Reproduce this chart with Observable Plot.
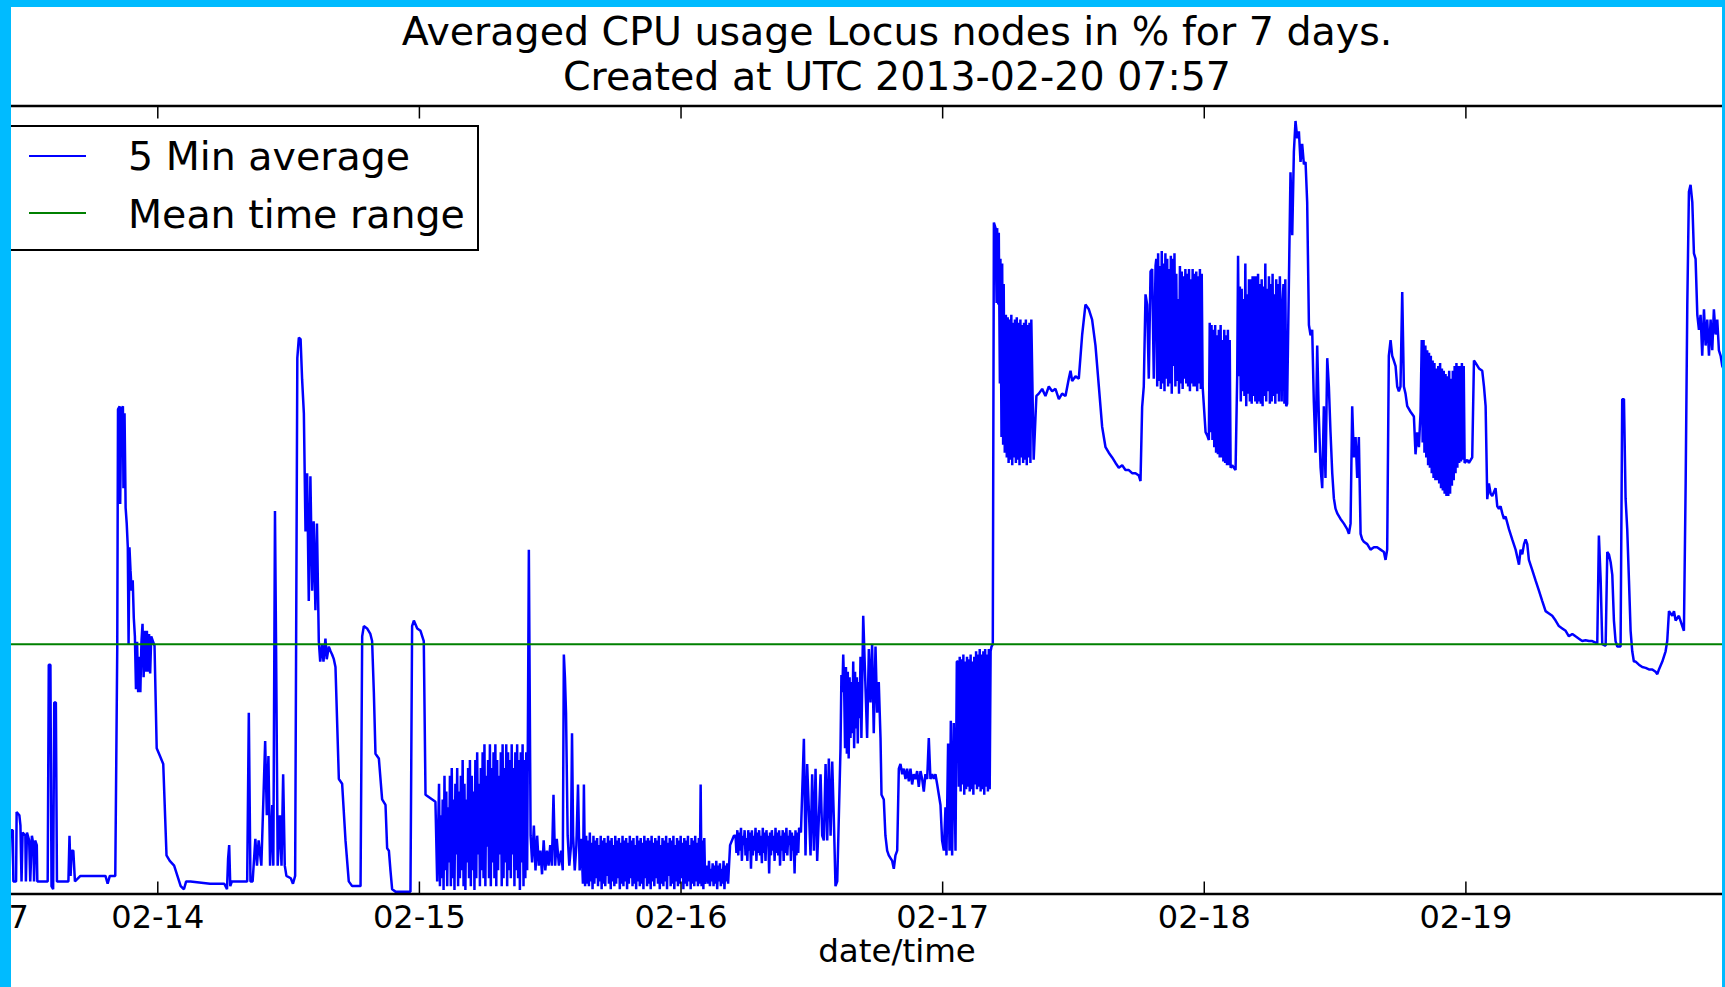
<!DOCTYPE html>
<html>
<head>
<meta charset="utf-8">
<script src="https://cdn.jsdelivr.net/npm/d3@7"></script>
<script src="https://cdn.jsdelivr.net/npm/@observablehq/plot@0.6"></script>
<style>
html, body { margin: 0; padding: 0; }
body { width: 1725px; height: 987px; background: #00bbff; position: relative; overflow: hidden; font-family: "DejaVu Sans", sans-serif; color: #000; }
#panel { position: absolute; left: 11px; top: 7px; width: 1711px; height: 980px; background: #fff; overflow: hidden; }
#chart { position: absolute; left: 0; top: 0; }
#title { position: absolute; left: 886px; top: 1.8px; transform: translateX(-50%); font-size: 39.5px; line-height: 45px; text-align: center; white-space: nowrap; }
#xlabel { position: absolute; left: 886px; top: 927.5px; transform: translateX(-50%); font-size: 32.5px; line-height: 32.5px; white-space: nowrap; }
#legend { position: absolute; left: -5px; top: 118px; width: 472.5px; height: 126px; border: 2px solid #000; box-sizing: border-box; background: #fff; }
#legend .ll { position: absolute; left: 21px; width: 57px; height: 2px; }
#legend .lt { position: absolute; left: 120px; font-size: 39.5px; line-height: 39.5px; white-space: nowrap; }
</style>
</head>
<body>
<div id="panel">
  <div id="chart"></div>
  <div id="title"></div>
  <div id="legend"></div>
  <div id="xlabel"></div>
</div>
<script>
// ---- text ----
const titleLines = ["Averaged CPU usage Locus nodes in % for 7 days.", "Created at UTC 2013-02-20 07:57"];
const xLabel = "date/time";
const seriesNames = ["5 Min average", "Mean time range"];
const seriesColors = ["#0000ff", "#008000"];

// ---- x ticks ----
const tickTimes = ["2013-02-13T07:57Z", "2013-02-14T00:00Z", "2013-02-15T00:00Z", "2013-02-16T00:00Z", "2013-02-17T00:00Z", "2013-02-18T00:00Z", "2013-02-19T00:00Z"];
const tickLabels = ["07:57", "02-14", "02-15", "02-16", "02-17", "02-18", "02-19"];

// visible time window (hours after 2013-02-13 00:00 UTC)
const viewStartHour = 10.58;
const viewEndHour = 167.54;
const yDomain = [0, 100];

// mean over the time range (%)
const meanValue = 31.7;

// ---- 5 minute averages: [hours after 2013-02-13 00:00 UTC, % CPU] ----
const day13 = [[10.4,2.0],[10.49,8.1],[10.7,8.1],[10.75,1.6],[11.0,1.6],[11.05,10.4],[11.3,10.0],[11.4,8.7],[11.5,1.6],[11.6,7.8],[11.85,7.4],[11.9,1.6],[12.0,7.8],[12.2,6.8],[12.3,1.6],[12.45,7.4],[12.6,6.2],[12.65,1.6],[12.75,6.8],[12.9,6.2],[12.95,1.6],[13.9,1.6],[14.0,29.1],[14.15,29.1],[14.25,1.0],[14.4,0.6],[14.5,24.3],[14.65,24.3],[14.75,1.6],[15.8,1.6],[15.9,7.4],[16.0,2.3],[16.1,5.5],[16.25,5.5],[16.4,1.6],[16.9,2.3],[19.2,2.3],[19.4,1.3],[19.6,2.3],[20.1,2.3],[20.28,31.0],[20.35,61.5],[20.5,61.9],[20.55,49.5],[20.65,61.5],[20.8,61.9],[20.85,51.5],[20.95,61.0],[21.05,49.0],[21.15,47.0],[21.25,44.0],[21.32,31.7],[21.4,44.0],[21.5,41.0],[21.6,38.5],[21.7,39.8],[21.8,35.0],[21.9,32.7],[22.0,26.0],[22.1,32.0],[22.2,25.6],[22.3,30.1],[22.4,25.6],[22.5,32.0],[22.6,34.3],[22.7,27.5],[22.8,33.4],[22.9,28.2],[23.0,33.4],[23.1,28.2],[23.2,33.0],[23.3,28.0],[23.4,32.7],[23.55,32.1],[23.7,31.5],[23.9,18.5]];
const day14 = [[24.2,17.5],[24.5,16.5],[24.8,4.9],[25.1,4.2],[25.5,3.6],[25.8,2.3],[26.1,1.0],[26.4,0.6],[26.6,1.6],[27.0,1.6],[28.8,1.3],[30.1,1.3],[30.35,0.6],[30.45,4.5],[30.55,6.2],[30.65,1.0],[30.8,1.6],[32.2,1.6],[32.35,23.0],[32.5,1.6],[32.7,1.6],[32.95,7.0],[33.1,3.6],[33.25,6.8],[33.5,3.6],[33.85,19.4],[34.0,10.0],[34.15,17.5],[34.3,3.6],[34.5,11.3],[34.6,3.6],[34.75,48.6],[34.85,31.7],[35.0,3.6],[35.2,10.0],[35.35,3.6],[35.5,15.2],[35.65,3.6],[35.8,2.3],[36.2,2.0],[36.4,1.3],[36.6,2.3],[36.8,68.0],[36.94,70.6],[37.1,70.4],[37.24,65.3],[37.4,61.0],[37.55,46.0],[37.7,53.4],[37.85,37.2],[38.0,53.0],[38.16,38.5],[38.3,47.3],[38.46,36.0],[38.6,47.0],[38.77,32.1],[38.9,29.5],[39.08,31.7],[39.2,29.5],[39.38,32.4],[39.5,29.8],[39.69,31.4],[39.85,30.8],[39.99,30.4],[40.15,29.8],[40.3,28.8],[40.61,14.6],[40.91,14.0],[41.22,6.8],[41.52,1.6],[41.83,1.0],[42.6,1.0],[42.75,32.7],[42.9,34.0],[43.2,33.7],[43.5,33.0],[43.66,32.1],[43.82,25.6],[43.97,17.8],[44.28,17.2],[44.58,12.0],[44.89,11.3],[45.04,5.8],[45.2,5.5],[45.35,2.9],[45.5,0.6],[45.8,0.3],[47.18,0.3],[47.33,34.0],[47.49,34.7],[47.8,33.7],[48.1,33.4],[48.4,32.1],[48.56,12.6],[49.47,11.7],[49.63,1.6]];
const day15 = [[58.04,43.7],[58.2,7.4],[58.34,4.0],[58.5,8.7],[58.65,3.0],[58.8,7.4],[58.95,3.6],[59.1,5.5],[59.25,2.5],[59.4,6.8],[59.55,3.0],[59.7,5.5],[59.85,3.6],[60.0,6.2],[60.15,3.6],[60.3,12.6],[60.45,3.6],[60.6,7.0],[60.8,3.6],[61.0,5.5],[61.15,3.0],[61.25,30.4],[61.35,27.5],[61.45,23.0],[61.6,7.4],[61.75,3.6],[61.9,6.0],[62.0,20.4],[62.1,7.4],[62.25,3.0],[62.4,6.2],[62.55,13.9],[62.7,3.0],[62.85,7.0],[63.0,1.3],[63.09,13.9],[63.2,1.0],[76.5,6.2],[76.85,7.4],[83.0,7.8],[83.27,19.7],[83.42,4.9],[83.57,16.5],[83.88,4.9],[84.03,15.2],[84.19,5.5],[84.34,15.9],[84.49,4.2],[84.8,15.2],[84.95,7.4],[85.1,6.8],[85.26,16.5],[85.41,6.8],[85.56,17.2],[85.72,7.4],[85.87,16.8],[86.02,9.4],[86.17,1.0],[86.33,1.6],[86.48,10.0]];
const day16 = [[89.07,19.8],[89.23,31.1],[89.38,24.3],[89.53,31.7],[89.68,20.4],[89.84,31.4],[89.99,23.0],[90.14,26.9],[90.3,19.8],[90.39,12.6],[90.6,12.0],[90.75,7.4],[90.91,5.5],[91.06,4.9],[91.37,4.2],[91.52,3.2],[91.67,4.9],[91.83,5.5],[91.98,15.9],[92.13,16.5],[92.29,15.2],[92.44,15.9],[92.59,14.6],[92.74,15.9],[92.9,14.3],[93.05,15.9],[93.2,13.9],[93.35,15.2],[93.51,14.6],[93.66,15.6],[93.81,13.6],[93.97,15.6],[94.12,14.6],[94.27,13.0],[94.42,15.2],[94.58,14.6],[94.73,19.8],[94.88,14.6],[95.04,15.2],[95.19,14.6],[95.34,15.2],[95.5,13.9],[95.65,12.6],[95.8,11.3],[95.95,6.8],[96.11,5.5],[96.26,11.0],[96.35,4.9],[96.5,19.1],[96.63,5.5],[96.75,22.0],[96.87,4.9],[97.02,21.7],[97.18,5.5],[97.3,29.5],[100.6,31.7],[100.7,85.2],[100.85,84.5],[100.95,75.0],[101.0,84.5],[101.1,74.8],[101.15,83.9],[101.25,64.8],[101.3,80.6],[101.4,58.0],[101.46,80.0],[101.55,57.0],[101.6,77.4],[101.7,56.0],[104.35,55.1],[104.6,63.2],[104.82,63.5],[105.13,64.1],[105.43,63.2],[105.74,64.4],[106.04,63.8],[106.35,64.1],[106.66,62.8],[106.96,63.5],[107.27,63.2],[107.57,65.4],[107.73,66.4],[107.88,65.1],[108.19,65.7],[108.49,65.4],[108.8,71.0],[109.1,74.8],[109.41,74.2],[109.71,72.9],[110.02,69.6],[110.33,64.4],[110.63,59.3],[110.94,56.7],[111.24,56.0],[111.55,55.4],[111.86,54.7],[112.16,54.1],[112.47,54.4],[112.77,53.8],[113.08,53.8],[113.38,53.4],[113.69,53.4],[114.0,53.1],[114.15,52.4],[114.3,61.8],[114.45,64.4],[114.61,76.1],[114.76,74.8],[114.91,65.4],[115.07,79.0],[115.22,79.3],[115.37,65.4],[115.53,79.7]];
const day17 = [[120.12,58.6],[120.27,58.2],[120.42,57.6],[122.56,54.4],[122.72,54.1],[122.87,53.8],[123.02,65.7],[127.91,91.6],[128.07,83.6],[128.22,94.2],[128.37,98.1],[128.53,95.9],[128.68,96.8],[128.83,92.9],[128.98,95.2],[129.14,92.6],[129.29,92.9],[129.44,87.8],[129.6,72.2],[129.75,70.9],[129.9,71.6],[130.05,62.5],[130.21,56.0],[130.36,69.6],[130.51,60.6],[130.67,54.1],[130.82,51.5],[130.97,61.9],[131.12,52.8],[131.28,68.0],[131.43,64.4],[131.58,58.6],[131.74,53.4],[131.89,50.2],[132.04,48.9],[132.2,48.3],[132.5,47.6],[132.81,47.0],[133.11,46.3],[133.27,45.7],[133.42,47.0],[133.57,61.9],[133.72,55.4],[133.88,58.0],[134.03,52.8],[134.18,58.0],[134.34,45.7],[134.49,45.0],[134.64,44.7],[134.95,44.4],[135.25,43.7],[135.56,44.0],[135.86,44.0],[136.17,43.7],[136.48,43.4],[136.63,42.4],[136.78,43.7],[136.93,68.3],[137.09,70.3],[137.24,68.3],[137.39,67.7],[137.55,67.0],[137.7,64.4],[137.85,63.8],[138.0,64.4],[138.16,76.4],[138.31,64.4],[138.46,63.5],[138.62,61.9],[138.92,61.2],[139.23,60.6],[139.38,55.8],[139.53,58.6],[139.69,56.7],[139.84,61.2]];
const day18 = [[144.0,54.9],[144.13,55.1],[144.28,54.7],[144.58,55.4],[144.74,67.7],[144.89,67.4],[145.2,66.7],[145.5,66.4],[145.66,64.4],[145.81,61.9],[145.96,50.1],[146.11,52.1],[146.27,50.8],[146.42,50.5],[146.72,51.5],[146.88,49.2],[147.03,48.9],[147.18,49.2],[147.34,48.3],[147.49,47.6],[147.64,47.9],[147.95,46.3],[148.25,45.0],[148.56,43.7],[148.87,41.8],[149.02,43.7],[149.17,43.1],[149.33,44.4],[149.48,45.0],[149.63,44.4],[149.78,42.4],[150.09,41.1],[150.39,39.8],[150.7,38.5],[151.0,37.2],[151.31,35.9],[151.62,35.6],[151.92,35.3],[152.23,34.7],[152.53,34.0],[152.84,33.7],[153.15,33.4],[153.45,32.7],[153.76,33.0],[154.06,32.7],[154.37,32.4],[154.67,32.1],[154.98,32.2],[155.29,32.1],[155.59,32.1],[155.9,31.9],[156.05,31.7],[156.2,45.5],[156.36,40.0],[156.51,31.7],[156.82,31.5],[156.97,43.4],[157.12,43.1],[157.28,42.1],[157.43,40.5],[157.58,34.7],[157.73,32.1],[157.89,31.4],[158.19,31.4],[158.34,62.8],[158.5,62.8],[158.65,50.2],[158.8,46.3],[158.96,39.8],[159.11,33.4],[159.26,30.8],[159.41,29.5],[159.57,29.5],[159.87,29.1],[160.18,28.8],[160.49,28.7],[160.79,28.5],[161.1,28.5],[161.4,28.2],[161.56,27.9],[161.71,28.5],[162.02,29.5],[162.32,30.8],[162.47,32.1],[162.63,35.9],[162.78,35.6],[162.93,35.3],[163.09,35.9],[163.24,34.7],[163.54,35.3],[163.85,34.0],[164.0,33.4],[164.16,52.1],[164.31,74.8],[164.46,89.1],[164.61,90.0],[164.77,87.8],[164.92,81.3],[165.07,80.6],[165.23,73.5],[165.38,71.6],[165.53,73.5],[165.68,68.3],[165.84,74.2],[165.99,69.6],[166.14,72.9],[166.3,68.3],[166.45,72.9],[166.6,69.0],[166.75,74.2],[166.91,71.0],[167.06,72.9],[167.21,69.0],[167.37,68.3],[167.52,67.0],[167.7,66.4]];

// dense stretches of consecutive 5-minute samples: start hour, then values
const sampleStep = 1 / 12;
const burst15a = {start: 49.8, values: [14,1,10,2,12,0.5,15,3,13,1,11,4,15,1,16,2,12,0.5,14,5,16,1,13,2,15,3,17,1,14,0.5,12,4,16,2,17,1,15,3,13,0.5,17,2,18,5,14,1,16,3,18,2,19,1,15,6,17,2,19,1,16,4,18,2,19,1,17,3,15,5,18,1,19,2,16,4,19,1,18,3,17,2,19,5,16,1,18,3,19,2,17,0.5,18,4,19,1,17,2,18,3]};
const burst15b = {start: 63.3, values: [7.4,1.3,6.8,1.0,7.8,1.6,6.5,0.6,7.4,1.3,6.8,2.0,7.1,1.0,6.2,1.6,7.4,0.6,6.8,1.3,7.1,1.0,6.5,2.3,7.4,1.3,6.8,0.6,7.1,1.6,6.2,1.0,7.4,1.3,6.8,2.0,7.1,0.6,6.5,1.3,7.4,1.0,6.8,1.6,7.1,0.6,6.5,1.3,7.4,2.0,6.8,1.0,7.1,1.3,6.2,0.6,7.4,1.6,6.8,1.0,7.1,1.3,6.5,0.6,7.4,2.0,6.8,1.0,7.1,1.3,6.8,0.6,7.4,1.6,6.5,1.0,7.1,2.0,6.8,1.3,7.4,0.6,6.2,1.3,7.1,1.0,6.8,1.6,7.4,0.6,6.5,2.3,7.1,1.0,6.8,1.3,7.4,0.6,6.2,1.6,7.1,1.0,6.8,1.3,7.4,2.0,6.5,0.6,7.1,1.3,6.8,1.0,7.4,1.6,6.2,0.6,7.1,1.3,6.8,1.0,7.4,1.6,6.5,1.0,7.1,1.3,13.9,1.0,6.8,0.6,7.1,1.3]};
const burst16a = {start: 74.4, values: [3.6,1.3,4.2,1.0,3.2,1.6,3.9,1.0,3.6,1.3,4.2,0.6,3.6,1.6,3.9,1.0,3.2,1.3,4.2,0.6,3.6,1.6,3.9,1.3]};
const burst16b = {start: 77.0, values: [7.4,5.2,8.1,4.9,7.8,5.5,8.4,4.2,7.4,6.2,8.1,4.9,7.1,4.2,8.1,5.5,7.8,3.2,8.1,4.9,7.4,5.5,8.4,4.2,7.8,5.2,8.1,4.9,7.4,3.9,8.4,5.2,7.8,4.2,8.1,6.2,7.4,2.6,7.8,4.9,8.1,5.5,7.4,4.2,8.4,5.2,7.8,4.9,8.1,3.6,7.4,5.5,8.1,4.2,7.8,5.2,8.4,4.9,7.4,6.2,8.1,4.2,7.8,5.5,7.4,2.6,8.1,4.9,7.8,5.2,8.4]};
const burst16c = {start: 86.63, values: [18.5,27.8,25.6,30.4,26.2,18.5,28.8,17.8,28.2,17.2,27.5,19.8,26.9,20.4,29.5,18.5,28.2,21.0,27.5,19.1,26.9,22.3,30.1,19.8,27.5,35.3]};
const burst17a = {start: 97.4, values: [29.5,13.6,30.1,13.0,29.8,13.9,30.4,12.6,29.5,13.3,30.1,13.6,29.8,13.0,30.4,13.3,29.5,12.6,30.1,13.9,30.8,13.3,30.4,13.6,31.1,13.0,30.4,13.3,30.8,12.6,31.1,13.6,30.4,13.0,31.1,13.3,30.8,31.4]};
const burst17b = {start: 101.8, values: [73.5,55.4,73.2,54.7,72.9,55.1,73.5,54.4,72.5,55.4,72.9,54.7,73.2,55.1,72.5,54.4,72.9,55.4,72.2,54.7,72.5,55.1,72.9,54.4,72.2,55.4,72.5,54.7,72.9]};
const burst18a = {start: 115.6, values: [80.6,64.4,81.3,65.1,79.7,64.1,81.6,64.8,80.0,63.8,81.3,65.4,80.6,64.4,79.3,64.8,81.0,63.5,80.6,67.0,81.3,64.4,78.7,65.1,75.5,63.5,79.7,64.8,79.0,64.1,78.4,65.4,79.3,64.8,78.7,64.4,79.3,63.8,78.0,64.8,79.3,64.4,78.7,64.4,79.0,63.8,78.4,64.8,79.3,64.1,78.7,64.4]};
const burst18b = {start: 120.5, values: [72.5,58.6,72.2,57.6,71.6,56.7,72.2,56.0,70.9,55.8,71.6,55.4,72.2,55.4,70.3,54.9,71.6,54.7,70.9,54.4,71.6,54.4,70.3,54.1]};
const burst18c = {start: 123.1, values: [81.0,65.7,77.1,62.5,76.8,63.8,75.5,63.2,80.0,61.9,76.1,63.5,78.0,62.5,78.0,62.2,78.4,63.2,78.4,62.5,78.4,62.2,78.7,62.5,77.4,62.2,78.0,61.9,77.1,63.2,80.0,62.5,76.8,63.8,78.4,62.2,77.4,62.5,78.7,63.2,76.1,62.2,78.0,63.5,77.4,62.5,78.4,71.6,62.5,75.0,77.4,62.2,78.0,61.9,62.2]};
const burst19a = {start: 139.95, values: [70.3,57.3,70.3,56.0,69.6,55.4,69.0,54.4,68.7,54.1,68.3,53.4,67.7,52.8,67.4,52.5]};
const burst19b = {start: 141.3, values: [66.7,52.5,67.0,52.1,67.4,51.5,66.7,51.2,66.4,50.8,66.0,50.5,65.7,50.5,66.4,50.8,65.4,51.8,66.4,52.5,67.0,53.4,67.4,54.1,67.0,54.7,67.0,54.9,67.4,55.1,67.0,54.7]};

// ---- build ----
const t0 = Date.UTC(2013, 1, 13);
const toDate = h => new Date(t0 + h * 3600000);
const samples = [];
for (const seg of [day13, day14, day15, day16, day17, day18]) for (const [h, v] of seg) samples.push({t: toDate(h), v});
for (const b of [burst15a, burst15b, burst16a, burst16b, burst16c, burst17a, burst17b, burst18a, burst18b, burst18c, burst19a, burst19b])
  b.values.forEach((v, i) => samples.push({t: toDate(b.start + i * sampleStep), v}));
samples.sort((a, b) => a.t - b.t);

const tickDates = tickTimes.map(s => new Date(s));
const labelOf = new Map(tickDates.map((d, i) => [+d, tickLabels[i]]));

const chart = Plot.plot({
  width: 1711,
  height: 967,
  marginLeft: 0,
  marginRight: 0,
  marginTop: 98.5,
  marginBottom: 80.5,
  style: {fontFamily: "DejaVu Sans", fontSize: "32px", color: "black", background: "transparent"},
  x: {type: "utc", domain: [toDate(viewStartHour), toDate(viewEndHour)]},
  y: {domain: yDomain, axis: null},
  marks: [
    Plot.line(samples, {x: "t", y: "v", stroke: seriesColors[0], strokeWidth: 2.5, strokeLinejoin: "miter", clip: true}),
    Plot.ruleY([meanValue], {stroke: seriesColors[1], strokeWidth: 2}),
    Plot.ruleY(yDomain, {stroke: "black", strokeWidth: 2.5}),
    Plot.axisX({anchor: "bottom", ticks: tickDates, tickFormat: d => labelOf.get(+d), tickSize: -12, tickPadding: 22.8, label: null, fontSize: 32, strokeWidth: 1.5}),
    Plot.axisX({anchor: "top", ticks: tickDates, tickFormat: () => "", tickSize: -12, label: null, strokeWidth: 1.5})
  ]
});
document.getElementById("chart").appendChild(chart);

// title, legend, axis label
const title = document.getElementById("title");
titleLines.forEach(line => { const d = document.createElement("div"); d.textContent = line; title.appendChild(d); });
document.getElementById("xlabel").textContent = xLabel;
const legend = document.getElementById("legend");
const lineTops = [28, 85], textTops = [9.6, 67.6];
seriesNames.forEach((name, i) => {
  const l = document.createElement("div"); l.className = "ll"; l.style.top = lineTops[i] + "px"; l.style.background = seriesColors[i]; legend.appendChild(l);
  const t = document.createElement("div"); t.className = "lt"; t.style.top = textTops[i] + "px"; t.textContent = name; legend.appendChild(t);
});
</script>
</body>
</html>
